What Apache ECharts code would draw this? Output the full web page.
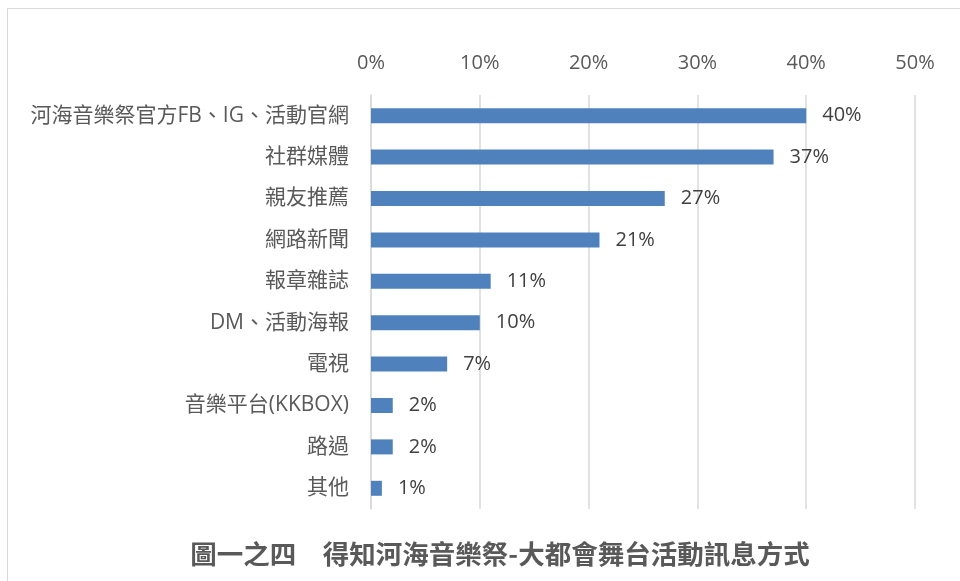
<!DOCTYPE html>
<html><head><meta charset="utf-8">
<script src="https://cdn.jsdelivr.net/npm/echarts@6/dist/echarts.min.js"></script>
<style>html,body{margin:0;padding:0;background:#fff}#c{width:960px;height:581px}</style>
</head><body><div id="c"></div>
<script>
const categories = ['河海音樂祭官方FB、IG、活動官網','社群媒體','親友推薦','網路新聞','報章雜誌','DM、活動海報','電視','音樂平台(KKBOX)','路過','其他'];
const values = [40, 37, 27, 21, 11, 10, 7, 2, 2, 1];
const ticks = [0, 10, 20, 30, 40, 50];
const titleText = '圖一之四　得知河海音樂祭-大都會舞台活動訊息方式';

const FONT = "'Open Sans', 'Noto Sans CJK TC', sans-serif";
const chart = echarts.init(document.getElementById('c'));
chart.setOption({
  animation: false,
  textStyle: { fontFamily: FONT },
  graphic: [{ type: 'rect', shape: { x: 7.5, y: 8.5, width: 1000, height: 1000 }, style: { fill: 'none', stroke: '#d9d9d9', lineWidth: 1 }, silent: true }],
  title: { text: titleText, left: 495, top: 536, textAlign: 'center',
    textStyle: { fontFamily: "'Noto Sans CJK TC', sans-serif", fontSize: 26.5, fontWeight: 'bold', color: '#595959' } },
  grid: { left: 371, right: 45, top: 95, bottom: 72, containLabel: false },
  xAxis: {
    type: 'value', position: 'top', min: ticks[0], max: ticks[ticks.length - 1], interval: 10,
    axisLine: { show: false }, axisTick: { show: false },
    splitLine: { lineStyle: { color: '#d9d9d9', width: 1.5 } },
    axisLabel: { formatter: v => v + '%', color: '#595959', fontSize: 20, margin: 22, fontFamily: FONT }
  },
  yAxis: {
    type: 'category', data: categories, inverse: true,
    axisLine: { show: true, lineStyle: { color: '#d9d9d9', width: 1.5 } },
    axisTick: { show: false },
    axisLabel: { color: '#595959', fontSize: 21, margin: 22, fontFamily: FONT }
  },
  series: [{
    type: 'bar', data: values, barWidth: 15,
    itemStyle: { color: '#4f81bd' },
    label: { show: true, position: 'right', distance: 16, formatter: p => p.value + '%', color: '#404040', fontSize: 20, fontFamily: FONT }
  }]
});
</script></body></html>
